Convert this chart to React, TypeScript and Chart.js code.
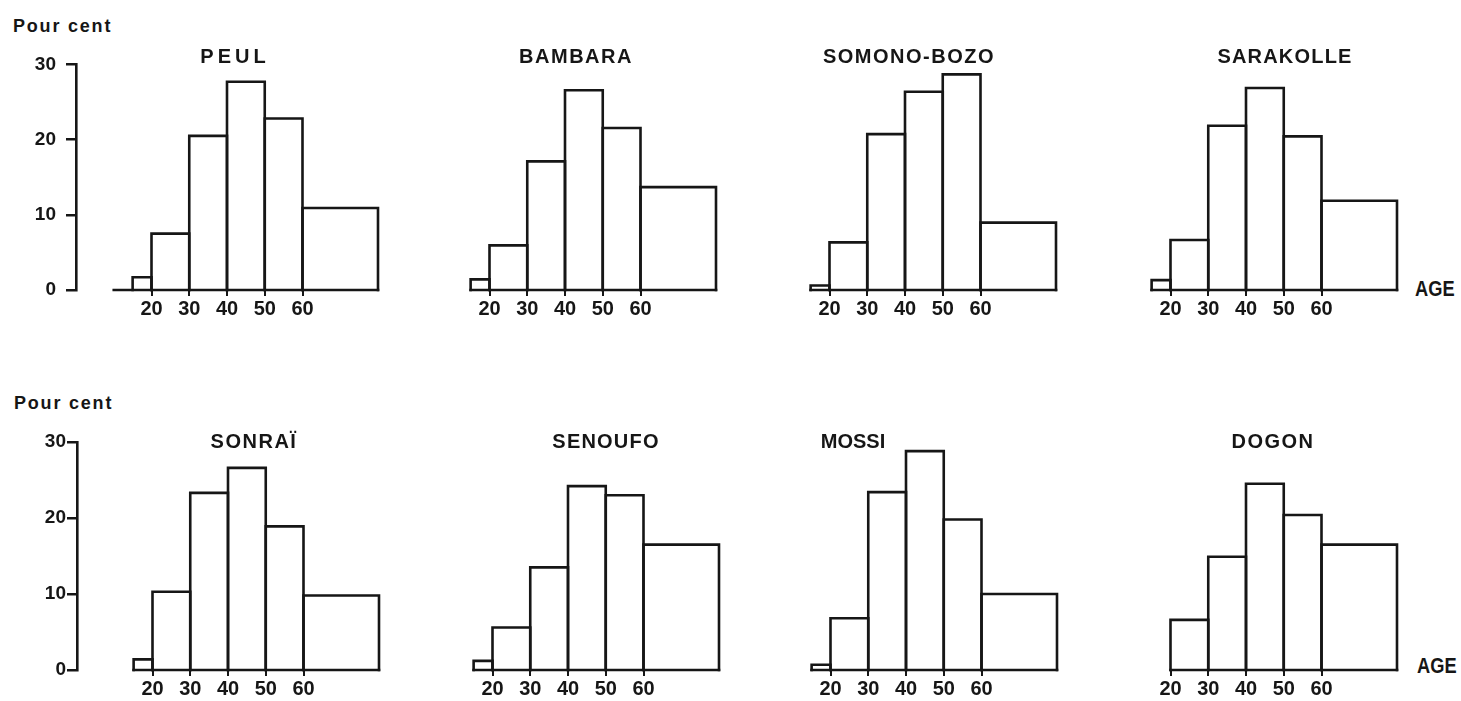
import React, { useEffect, useRef } from "react";
import { Chart, registerables } from "chart.js";
Chart.register(...registerables);

// ---- DATA ----
const ageEdges = [15, 20, 30, 40, 50, 60, 80];
const xTickValues = [20, 30, 40, 50, 60];
const yTickValues = [0, 10, 20, 30];
const groupNames = ["PEUL", "BAMBARA", "SOMONO-BOZO", "SARAKOLLE", "SONRAÏ", "SENOUFO", "MOSSI", "DOGON"];
const peul = [1.7, 7.5, 20.5, 27.7, 22.8, 10.9];
const bambara = [1.4, 5.9, 17.0, 26.4, 21.4, 13.6];
const somonoBozo = [0.6, 6.3, 20.6, 26.2, 28.5, 8.9];
const sarakolle = [1.3, 6.6, 21.7, 26.7, 20.3, 11.8];
const sonrai = [1.4, 10.3, 23.3, 26.6, 18.9, 9.8];
const senoufo = [1.2, 5.6, 13.5, 24.2, 23.0, 16.5];
const mossi = [0.7, 6.8, 23.4, 28.8, 19.8, 10.0];
const dogon = [null, 6.6, 14.9, 24.5, 20.4, 16.5];
const seriesList = [peul, bambara, somonoBozo, sarakolle, sonrai, senoufo, mossi, dogon];
const baselineStart = [10, 15, 15, 15, 15, 15, 15, 20];
const yAxisLabel = "Pour cent";
const xAxisLabel = "AGE";

// ---- LAYOUT ----
const FONT = "'Liberation Sans', Arial, sans-serif";
const INK = "#161616";
const X0 = [[76, 414, 754, 1095], [77, 417, 755, 1095]]; // pixel of age 0
const TOP30 = [63, 442];
const ZERO = [290, 670];
const PLOT_W = 302;
const PAD_TOP = 20;
const XAXIS_H = 36;
const YAXIS_W = 65;
const SIDE = 12;
const titleCX = [235, 576, 909, 1285, 254, 606, 853, 1273];
const titleSpacing = [4, 1.5, 1.5, 1.2, 1.5, 1.2, 0, 1.5];
const titleTop = [46, 431];

function Panel({ idx }: { idx: number }) {
  const ref = useRef<HTMLCanvasElement | null>(null);
  const row = idx < 4 ? 0 : 1;
  const col = idx % 4;
  const first = col === 0;
  const x0 = X0[row][col];
  const plotH = ZERO[row] - TOP30[row];
  const left = first ? x0 - YAXIS_W : x0 - SIDE;
  const width = (first ? YAXIS_W : SIDE) + PLOT_W + SIDE;
  const top = TOP30[row] - PAD_TOP;
  const height = PAD_TOP + plotH + XAXIS_H;

  useEffect(() => {
    const canvas = ref.current;
    if (!canvas) return;
    const style = {
      showLine: true,
      borderColor: INK,
      borderWidth: 2.6,
      pointRadius: 0,
      pointHoverRadius: 0,
      fill: false,
      clip: false as any,
      tension: 0,
      borderJoinStyle: "miter" as const,
      borderCapStyle: "square" as const,
    };
    const values = seriesList[idx];
    const last = ageEdges[ageEdges.length - 1];
    const datasets: any[] = [
      { ...style, data: [{ x: baselineStart[idx], y: 0 }, { x: last, y: 0 }] },
    ];
    values.forEach((v, k) => {
      if (v == null) return;
      const a = ageEdges[k];
      const b = ageEdges[k + 1];
      datasets.push({
        ...style,
        data: [
          { x: a, y: 0 },
          { x: a, y: v },
          { x: b, y: v },
          { x: b, y: 0 },
        ],
      });
    });
    const yScale: any = {
      type: "linear",
      min: 0,
      max: 30,
      display: first,
      afterBuildTicks: (s: any) => {
        s.ticks = yTickValues.map((v) => ({ value: v }));
      },
      grid: { display: true, drawOnChartArea: false, drawTicks: true, tickLength: 10, color: INK, lineWidth: 2.5 },
      border: { display: true, color: INK, width: 2.6 },
      ticks: {
        color: INK,
        font: { family: FONT, size: 19, weight: "bold" },
        padding: row === 0 ? 10 : 1,
        callback: (v: any) => String(v),
      },
    };
    if (first) {
      yScale.afterFit = (s: any) => {
        s.width = YAXIS_W;
      };
    }
    const chart = new Chart(canvas, {
      type: "scatter",
      data: { datasets },
      options: {
        responsive: false,
        animation: false,
        events: [],
        layout: { padding: { top: PAD_TOP, left: first ? 0 : SIDE, right: SIDE, bottom: 0 } },
        plugins: { legend: { display: false }, tooltip: { enabled: false }, title: { display: false } },
        scales: {
          x: {
            type: "linear",
            min: 0,
            max: last,
            afterBuildTicks: (s: any) => {
              s.ticks = xTickValues.map((v) => ({ value: v }));
            },
            afterFit: (s: any) => {
              s.height = XAXIS_H;
            },
            grid: { display: true, drawOnChartArea: false, drawTicks: true, tickLength: 6, color: INK, lineWidth: 2 },
            border: { display: false },
            ticks: {
              color: INK,
              font: { family: FONT, size: 20, weight: "bold" },
              padding: 1,
              maxRotation: 0,
              autoSkip: false,
              callback: (v: any) => String(v),
            },
          },
          y: yScale,
        },
      },
    });
    return () => chart.destroy();
  }, [idx]);

  return (
    <canvas
      ref={ref}
      width={width}
      height={height}
      style={{ position: "absolute", left, top, width, height }}
    />
  );
}

const textBase: React.CSSProperties = {
  position: "absolute",
  fontFamily: FONT,
  color: INK,
  lineHeight: 1,
  whiteSpace: "nowrap",
  fontWeight: "bold",
};

export default function App() {
  return (
    <div style={{ position: "fixed", left: 0, top: 0, width: 1461, height: 701, background: "#fff", overflow: "hidden" }}>
      {groupNames.map((_, i) => (
        <Panel key={i} idx={i} />
      ))}
      {groupNames.map((name, i) => (
        <div
          key={"t" + i}
          style={{
            ...textBase,
            left: titleCX[i],
            top: titleTop[i < 4 ? 0 : 1],
            transform: "translateX(-50%)",
            fontSize: 20,
            letterSpacing: titleSpacing[i],
          }}
        >
          {name}
        </div>
      ))}
      <div style={{ ...textBase, left: 13, top: 17, fontSize: 18, letterSpacing: 1.8 }}>{yAxisLabel}</div>
      <div style={{ ...textBase, left: 14, top: 394, fontSize: 18, letterSpacing: 1.8 }}>{yAxisLabel}</div>
      <div style={{ ...textBase, left: 1415, top: 278, fontSize: 22, transform: "scaleX(0.83)", transformOrigin: "left top" }}>{xAxisLabel}</div>
      <div style={{ ...textBase, left: 1417, top: 655, fontSize: 22, transform: "scaleX(0.83)", transformOrigin: "left top" }}>{xAxisLabel}</div>
    </div>
  );
}
